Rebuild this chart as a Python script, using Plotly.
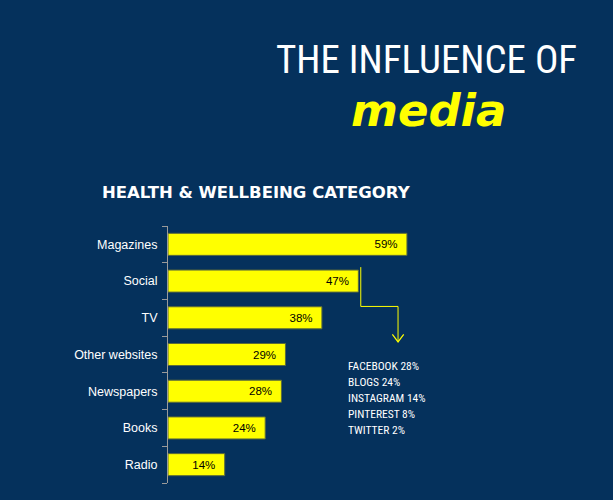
import plotly.graph_objects as go

# media channels, health & wellbeing category (top to bottom as in the picture)
channels = ["Magazines", "Social", "TV", "Other websites", "Newspapers", "Books", "Radio"]
shares = [59, 47, 38, 29, 28, 24, 14]

# breakdown of the "Social" bar
social_sources = ["FACEBOOK", "BLOGS", "INSTAGRAM", "PINTEREST", "TWITTER"]
social_shares = [28, 24, 14, 8, 2]

BG = "#05315c"
YELLOW = "#ffff00"
NARROW = "Roboto Condensed, Liberation Sans Narrow, Roboto, sans-serif"

# plotly draws categories bottom-up, so flip the lists
cats = channels[::-1]
vals = shares[::-1]

fig = go.Figure()
fig.add_trace(go.Bar(
    x=vals, y=cats, orientation="h",
    marker=dict(color=YELLOW, line=dict(color="#5c6b3a", width=1)),
    width=0.6,
    text=[f"{v}%\u00a0\u00a0" for v in vals],
    textposition="inside", insidetextanchor="end",
    textfont=dict(family="Arial, Liberation Sans, sans-serif", size=11.5, color="black"),
    hoverinfo="skip",
))

fig.update_xaxes(range=[0, 100], visible=False)
fig.update_yaxes(
    categoryorder="array", categoryarray=cats,
    showline=True, linecolor="#9a9a9a", linewidth=1,
    ticks="outside", tickson="boundaries", ticklen=5, tickcolor="#9a9a9a",
    ticklabelstandoff=7,
    tickfont=dict(family="Arial, Liberation Sans, sans-serif", size=12.5, color="white"),
    showgrid=False, zeroline=False,
)

fig.update_layout(
    width=613, height=500,
    margin=dict(l=168, r=40, t=226, b=17),
    paper_bgcolor=BG, plot_bgcolor=BG,
    showlegend=False,
)

fig.add_annotation(
    text="THE INFLUENCE OF", xref="paper", yref="paper", x=0.638, y=1.646,
    xanchor="center", yanchor="middle", showarrow=False,
    font=dict(family=NARROW, size=39, color="white"),
)
fig.add_annotation(
    text="<b><i>media</i></b>", xref="paper", yref="paper", x=0.642, y=1.45,
    xanchor="center", yanchor="middle", showarrow=False,
    font=dict(family="DejaVu Sans, sans-serif", size=45, color=YELLOW),
)
fig.add_annotation(
    text="<b>HEALTH &amp; WELLBEING CATEGORY</b>", xref="paper", yref="paper", x=0.219, y=1.132,
    xanchor="center", yanchor="middle", showarrow=False,
    font=dict(family="DejaVu Sans, sans-serif", size=16.5, color="white"),
)

# connector from the Social bar to the breakdown list
fig.add_shape(type="path", xref="x", yref="paper",
              path="M 47.6 0.84 L 47.6 0.687 L 56.8 0.687 L 56.8 0.55",
              line=dict(color=YELLOW, width=1))
fig.add_shape(type="path", xref="x", yref="paper",
              path="M 55.4 0.578 L 56.8 0.549 L 58.2 0.578",
              line=dict(color=YELLOW, width=1.2))

for i, (s, v) in enumerate(zip(social_sources, social_shares)):
    fig.add_annotation(
        text=f"{s} {v}%", xref="paper", yref="paper", x=0.44, y=0.455 - i * 0.0623,
        xanchor="left", yanchor="middle", showarrow=False,
        font=dict(family=NARROW, size=11.5, color="white"),
    )

fig.write_html("out.html", config={"displayModeBar": False},
               post_script="document.body.style.margin='0';")
